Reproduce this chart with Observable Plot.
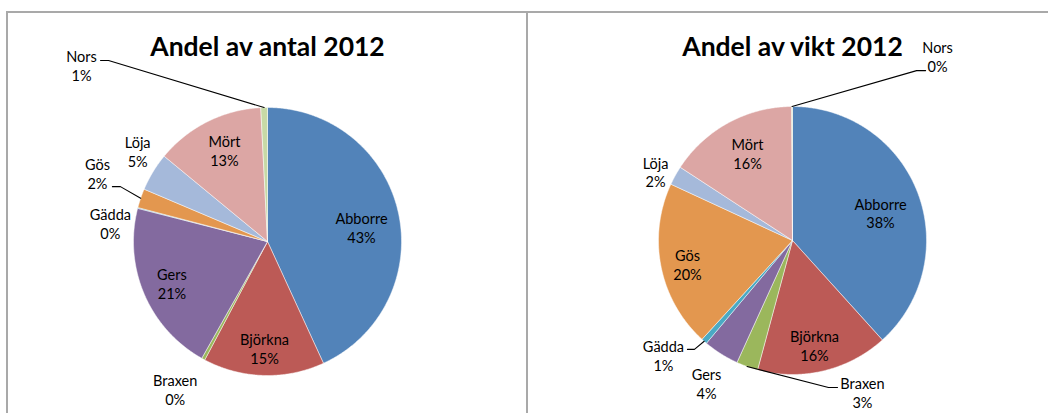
<!DOCTYPE html>
<html><head><meta charset="utf-8">
<script src="https://cdn.jsdelivr.net/npm/d3@7"></script>
<script src="https://cdn.jsdelivr.net/npm/@observablehq/plot@0.6"></script>
<style>
body{margin:0;background:#fff;}
#wrap{position:relative;width:1048px;height:413px;overflow:hidden;font-family:Lato,"Open Sans",sans-serif;}
.panel{position:absolute;top:0;}
.line{position:absolute;background:#a9a9a9;}
</style></head><body><div id="wrap"></div>
<script>
// ---- data ----
const species = ["Abborre","Björkna","Braxen","Gers","Gädda","Gös","Löja","Mört","Nors"];
const antal = [43.1, 14.6, 0.4, 20.8, 0.1, 2.3, 4.6, 13.2, 0.8];
const vikt  = [38.3, 15.9, 2.6, 4.3, 0.7, 20.1, 2.3, 15.7, 0.1];
const titles = ["Andel av antal 2012", "Andel av vikt 2012"];
const colors = ["#5283b9","#bc5a56","#9bb75c","#836a9f","#4aaac4","#e3974f","#a5b9da","#dca6a4","#c7d9a6"];

// ---- layout (label placement: [angle deg from 12 o'clock, radius in R]) ----
const antalLabelPos = [[81.2,0.71],[181.6,0.795],[212,1.30],[246.1,0.78],[276.4,1.18],[291.9,1.368],[304.8,1.18],[334.6,0.75],[313.5,1.913]];
const viktLabelPos  = [[72.6,0.688],[168.1,0.797],[155.2,1.245],[211.1,1.242],[228.2,1.292],[257.4,0.803],[296.6,1.143],[332.8,0.734],[38.2,1.751]];
// leader lines: pixel offsets from label centre (elbow, end)
const antalLeaders = {"Nors": [[27,-4.5],[19,-4.5]], "Gös": [[23,13.5],[15,13.5]]};
const viktLeaders  = {"Nors": [[-21,14.5],[-12,14.5]], "Gädda": [[31,-6.5],[24,-6.5]], "Braxen": [[-34,-4.5],[-25,-4.5]]};

const H = 413, R = 134;
const panels = [
  {title: titles[0], values: antal, labelPos: antalLabelPos, leaders: antalLeaders, left: 0,   width: 527, cx: 267, cy: 241},
  {title: titles[1], values: vikt,  labelPos: viktLabelPos,  leaders: viktLeaders,  left: 527, width: 521, cx: 265, cy: 240}
];

const wrap = document.getElementById("wrap");
const rad = d => d * Math.PI / 180;

for (const p of panels) {
  const total = d3.sum(p.values);
  let cum = 0;
  const slicePts = [];
  const labels = [];
  const leaders = [];
  p.values.forEach((v, i) => {
    const a0 = cum / total * 360, a1 = (cum + v) / total * 360;
    cum += v;
    const name = species[i];
    slicePts.push({name, x: 0, y: 0});
    const n = Math.max(2, Math.ceil((a1 - a0) / 0.5));
    for (let k = 0; k <= n; k++) {
      const a = rad(a0 + (a1 - a0) * k / n);
      slicePts.push({name, x: Math.sin(a), y: Math.cos(a)});
    }
    slicePts.push({name, x: 0, y: 0});
    const [la, lr] = p.labelPos[i];
    const lx = lr * Math.sin(rad(la)), ly = lr * Math.cos(rad(la));
    labels.push({name, x: lx, y: ly, text: `${name}\n${Math.round(v / total * 100)}%`});
    const ld = p.leaders[name];
    if (ld) {
      const am = rad((a0 + a1) / 2);
      leaders.push({name, x: Math.sin(am), y: Math.cos(am)});
      for (const [ox, oy] of ld) leaders.push({name, x: lx + ox / R, y: ly - oy / R});
    }
  });

  const chart = Plot.plot({
    width: p.width, height: H,
    margin: 0,
    x: {domain: [-p.cx / R, (p.width - p.cx) / R], axis: null},
    y: {domain: [-(H - p.cy) / R, p.cy / R], axis: null},
    color: {type: "ordinal", domain: species, range: colors},
    style: {background: "transparent", overflow: "visible"},
    marks: [
      Plot.line(slicePts, {x: "x", y: "y", z: "name", fill: "name", stroke: "#ffffff", strokeWidth: 0.6, strokeOpacity: 0.8, curve: "linear"}),
      Plot.line(leaders, {x: "x", y: "y", z: "name", stroke: "#000", strokeWidth: 1.1, curve: "linear"}),
      Plot.text(labels, {x: "x", y: "y", text: "text", fontSize: 14.5, lineHeight: 1.31, lineAnchor: "middle", fill: "#000", fontFamily: "Lato"}),
      Plot.text([{t: p.title, x: 0}], {x: "x", text: "t", frameAnchor: "top", dy: 47, fontSize: 26.5, fontWeight: "bold", fill: "#000", fontFamily: "Lato", lineAnchor: "middle"})
    ]
  });
  const div = document.createElement("div");
  div.className = "panel";
  div.style.left = p.left + "px";
  div.appendChild(chart);
  wrap.appendChild(div);
}

// chart area frames
const addLine = (l, t, w, h) => { const d = document.createElement("div"); d.className = "line"; Object.assign(d.style, {left: l + "px", top: t + "px", width: w + "px", height: h + "px"}); wrap.appendChild(d); };
addLine(6, 11, 1042, 2);
addLine(6, 11, 2, 402);
addLine(526, 11, 2, 402);
</script>
</body></html>
